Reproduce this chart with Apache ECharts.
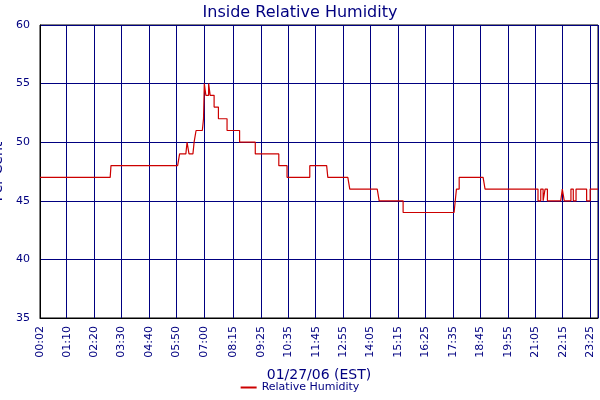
<!DOCTYPE html>
<html><head><meta charset="utf-8">
<script src="https://cdn.jsdelivr.net/npm/echarts@6/dist/echarts.min.js"></script>
<style>html,body{margin:0;background:#fff}#c{width:600px;height:400px}</style>
</head><body><div id="c"></div>
<script>
const times  = [2,181,183,353,358,374,377,382,392,395,400,416,419,421,425,432,436,446,457,479,511,551,611,632,690,733,736,787,792,862,867,922,928,1058,1061,1064,1071,1132,1137,1266,1272,1279,1285,1290,1296,1330,1334,1339,1356,1362,1369,1381,1396,1398,1405,1425];
const values = [47,47,48,48,49,49,50,49,49,50,51,51,52,55,54,55,54,53,52,51,50,49,48,47,48,48,47,47,46,46,45,45,44,44,45,46,47,47,46,46,45,46,45,46,45,45,46,45,46,45,46,46,45,45,46,46];
const tickMinutes = [2,70,140,210,280,350,420,495,565,635,705,775,845,915,985,1055,1125,1195,1265,1335,1405,1425];
const fmt = m => String(Math.floor(m/60)).padStart(2,'0')+':'+String(m%60).padStart(2,'0');
const navy = '#000080';
const chart = echarts.init(document.getElementById('c'));
chart.setOption({
  animation:false,
  textStyle:{fontFamily:'DejaVu Sans'},
  title:{text:'Inside Relative Humidity',left:'center',top:0,textStyle:{color:navy,fontSize:16,fontWeight:'normal',fontFamily:'DejaVu Sans'}},
  grid:{left:40,right:2,top:25,bottom:82,containLabel:false,outerBoundsMode:'none',show:true,borderColor:'#000',borderWidth:1},
  legend:{bottom:2,left:'center',itemWidth:16,itemHeight:2,icon:'rect',textStyle:{color:navy,fontSize:11},data:['Relative Humidity']},
  xAxis:{type:'value',min:2,max:1425,
    name:'01/27/06 (EST)',nameLocation:'middle',nameGap:50,nameTextStyle:{color:navy,fontSize:14},
    axisLine:{lineStyle:{color:'#000'}},
    axisTick:{show:true,length:0,customValues:tickMinutes},
    axisLabel:{customValues:tickMinutes,rotate:90,color:navy,fontSize:11,formatter:v=>fmt(v),hideOverlap:false},
    splitLine:{show:true,lineStyle:{color:navy,width:1}}},
  yAxis:{type:'value',min:35,max:60,interval:5,
    name:'Per Cent',nameLocation:'middle',nameGap:24,nameTextStyle:{color:navy,fontSize:14},
    axisLine:{show:true,lineStyle:{color:'#000'}},
    axisTick:{show:false},
    axisLabel:{color:navy,fontSize:11,margin:10},
    splitLine:{show:true,lineStyle:{color:navy,width:1}}},
  series:[{name:'Relative Humidity',type:'line',step:'end',showSymbol:false,
    data:times.map((t,i)=>[t,values[i]]),lineStyle:{color:'#cc0000',width:1.2},itemStyle:{color:'#cc0000'}}]
});
</script></body></html>
